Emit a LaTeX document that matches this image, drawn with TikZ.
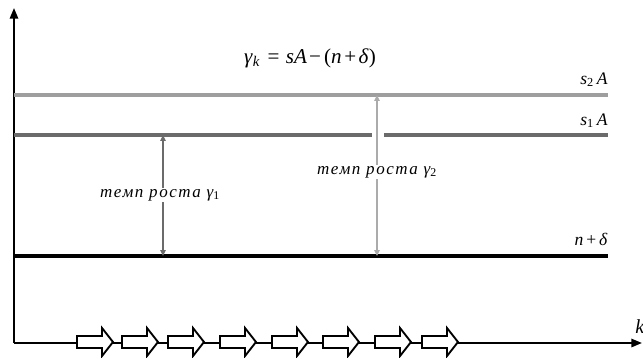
\documentclass[tikz,border=0pt]{standalone}
\usepackage{fontspec}
\setmainfont{Liberation Serif}
\newfontfamily\spacedfont[LetterSpace=9]{Liberation Serif}
\usetikzlibrary{arrows.meta}
\begin{document}
\begin{tikzpicture}[x=0.03cm, y=-0.03cm, every node/.style={font=\fontsize{15}{17}\selectfont, inner sep=1pt}]

    % Styles
    \tikzstyle{axis_line} = [line width=1.7pt, black, -{Triangle[length=9pt,width=7pt]}]
    \tikzstyle{level_two} = [line width=2.6pt, black!38]
    \tikzstyle{level_one} = [line width=2.6pt, black!58]
    \tikzstyle{level_nd} = [line width=2.6pt, black]
    \tikzstyle{rate_one} = [line width=1pt, black!58, -{Triangle[length=5pt,width=4.5pt]}]
    \tikzstyle{rate_two} = [line width=1pt, black!33, -{Triangle[length=5pt,width=4.5pt]}]
    \tikzstyle{rate_lbl} = [font=\spacedfont\itshape\fontsize{14.5}{17}\selectfont]
    \tikzstyle{step_arrow} = [line width=1.6pt, draw=black, fill=white]

    % Frame (643 x 357 px)
    \useasboundingbox (0,0) rectangle (643,357);

    % Level heights
    \def\ytwo{95}
    \def\yone{135}
    \def\ynd{256}
    \def\yaxis{343}

    % Axes
    \coordinate (origin) at (14,\yaxis);
    \coordinate (ytop) at (14,8);
    \coordinate (xend) at (642,\yaxis);
    \draw[axis_line] (origin) -- (ytop);
    \draw[axis_line] (origin) -- (xend);
    \node[anchor=base west, font=\itshape\fontsize{17}{19}\selectfont] (klbl) at (634,333) {k};

    % Equation
    \node[anchor=base, font=\fontsize{18}{20}\selectfont] (eqn) at (310,63)
      {\textit{γ}\textsubscript{\textit{k}}\hspace{0.35em}=\hspace{0.3em}\textit{sA}\hspace{0.1em}−\hspace{0.15em}(\textit{n}\hspace{0.12em}+\hspace{0.12em}\textit{δ})};

    % Levels
    \coordinate (s2l) at (14,\ytwo);   \coordinate (s2r) at (608,\ytwo);
    \coordinate (s1l) at (14,\yone);   \coordinate (s1r) at (608,\yone);
    \coordinate (gapl) at (372,\yone); \coordinate (gapr) at (384,\yone);
    \coordinate (ndl) at (14,\ynd);    \coordinate (ndr) at (608,\ynd);
    \draw[level_two] (s2l) -- (s2r);
    \draw[level_one] (s1l) -- (gapl);
    \draw[level_one] (gapr) -- (s1r);
    \draw[level_nd] (ndl) -- (ndr);

    \node[anchor=base east] (s2lbl) at (609,84) {\textit{s}\textsubscript{2}\,\textit{A}};
    \node[anchor=base east] (s1lbl) at (609,125) {\textit{s}\textsubscript{1}\,\textit{A}};
    \node[anchor=base east] (ndlbl) at (609,245) {\textit{n}\,+\,\textit{δ}};

    % Growth rates
    \node[rate_lbl] (rate1) at (160,195) {темп роста \textit{γ}\textsubscript{\upshape 1}};
    \node[rate_lbl] (rate2) at (377,172) {темп роста \textit{γ}\textsubscript{\upshape 2}};
    \coordinate (r1top) at (163,\yone); \coordinate (r1bot) at (163,\ynd);
    \coordinate (r2top) at (377,\ytwo); \coordinate (r2bot) at (377,\ynd);
    \draw[rate_one] (rate1.north -| r1top) -- (r1top);
    \draw[rate_one] (rate1.south -| r1bot) -- (r1bot);
    \draw[rate_two] (rate2.north -| r2top) -- (r2top);
    \draw[rate_two] (rate2.south -| r2bot) -- (r2bot);

    % Hollow arrows along the k axis
    \foreach \x [count=\i] in {77,122,168,220,272,323,375,422} {
      \draw[step_arrow] (\x,336) -- ++(25,0) -- ++(0,-8) -- ++(11,14)
        -- ++(-11,14) -- ++(0,-8) -- ++(-25,0) -- cycle;
    }

\end{tikzpicture}
\end{document}
